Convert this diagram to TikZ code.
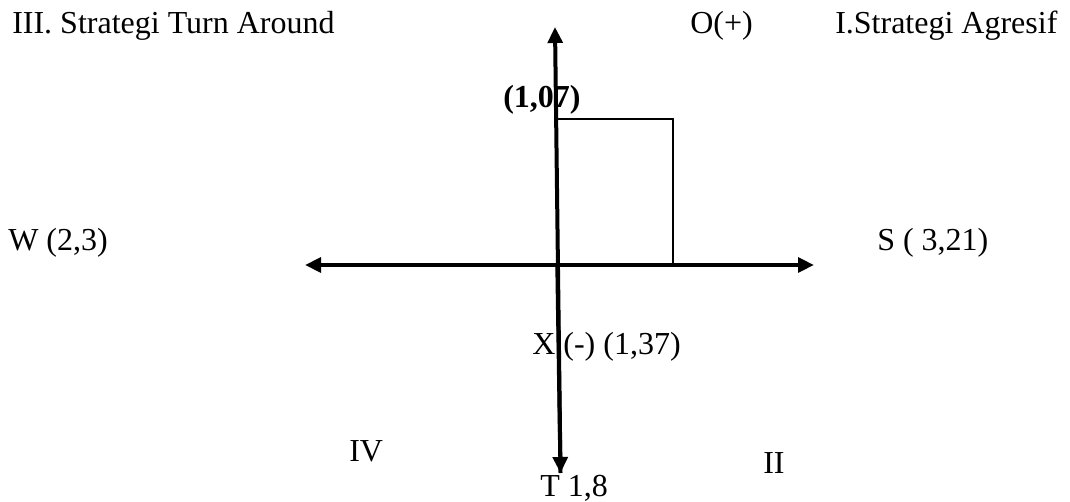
\documentclass[tikz,border=0pt]{standalone}
\usepackage{fontspec}
\setmainfont{Liberation Serif}
\usetikzlibrary{arrows.meta}
\tikzset{
  lbl/.style={inner sep=0pt, anchor=base west, font=\fontsize{24}{28}\selectfont},
  axis/.style={line width=3pt, -{Triangle[length=12pt,width=11pt]}, shorten >=0pt},
  thin/.style={line width=1pt}
}
\begin{document}
\begin{tikzpicture}[x=0.75pt,y=-0.75pt]
\useasboundingbox (0,0) rectangle (1070,502);
% axis end points
\coordinate (vtop) at (555,27);
\coordinate (vbot) at (560.5,473);
\coordinate (hleft) at (305,265);
\coordinate (hright) at (814,265);
\coordinate (vmid) at (557.3,265);
% axes
\draw[axis] (vbot) -- (vtop);
\draw[axis] (vmid) -- (vbot);
\draw[axis] (vmid) -- (hleft);
\draw[axis] (vmid) -- (hright);
% rectangle
\coordinate (rtl) at (556,119);
\coordinate (rtr) at (673,119);
\coordinate (rbr) at (673,265);
\draw[thin] (rtl) -- (rtr) -- (rbr);
% labels
\node[lbl] (q3) at (12,34) {III. Strategi Turn Around};
\node[lbl] (o) at (690,34) {O(+)};
\node[lbl] (q1) at (835,34) {I.Strategi Agresif};
\node[lbl, font=\fontsize{24}{28}\selectfont\bfseries] (ov) at (503,108) {(1,07)};
\node[lbl] (w) at (8,251) {W (2,3)};
\node[lbl] (s) at (877,251) {S ( 3,21)};
\node[lbl] (x) at (532,354) {X (-) (1,37)};
\node[lbl] (q4) at (349,461) {IV};
\node[lbl] (q2) at (763,473) {II};
\node[lbl] (t) at (540,496) {T 1,8};
\end{tikzpicture}
\end{document}
